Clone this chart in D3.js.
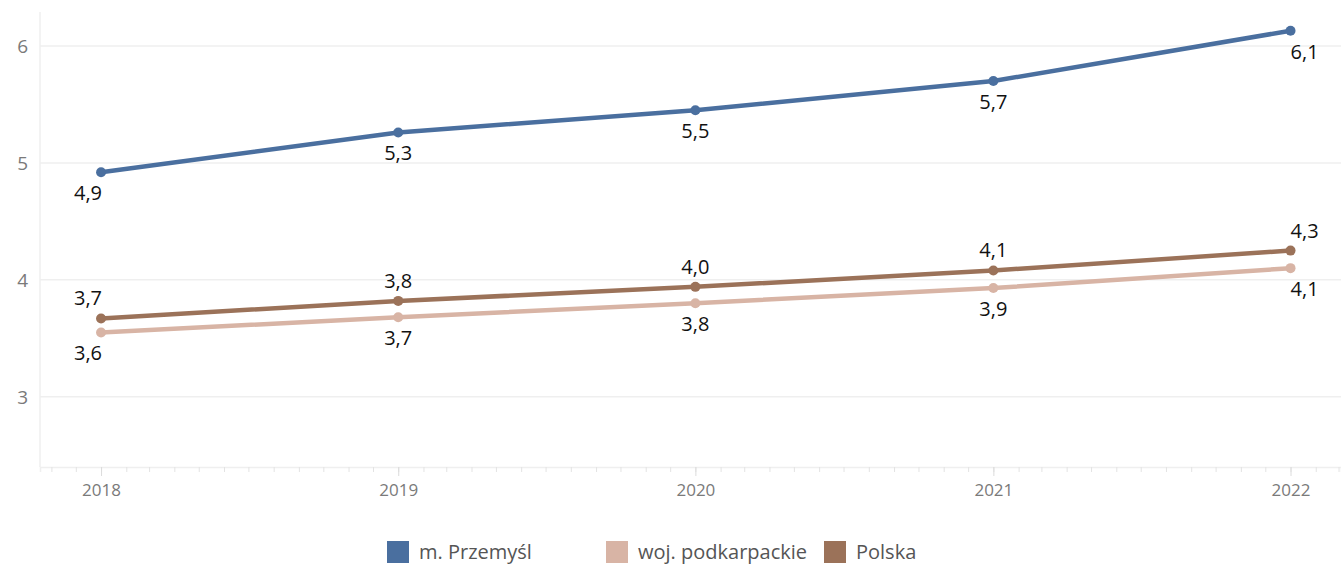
<!DOCTYPE html>
<html>
<head>
<meta charset="utf-8">
<script src="https://cdn.jsdelivr.net/npm/d3@7"></script>
<style>
  html, body { margin: 0; padding: 0; background: #fff; }
  svg { display: block; font-family: "Open Sans", "Noto Sans", sans-serif; }
</style>
</head>
<body>
<svg id="chart" width="1341" height="565"></svg>
<script>
const years = [2018, 2019, 2020, 2021, 2022];
const przemysl = [4.92, 5.26, 5.45, 5.70, 6.13];
const przemyslLabels = ["4,9", "5,3", "5,5", "5,7", "6,1"];
const podkarpackie = [3.55, 3.68, 3.80, 3.93, 4.10];
const podkarpackieLabels = ["3,6", "3,7", "3,8", "3,9", "4,1"];
const polska = [3.67, 3.82, 3.94, 4.08, 4.25];
const polskaLabels = ["3,7", "3,8", "4,0", "4,1", "4,3"];
const yTicks = [3, 4, 5, 6];
const seriesNames = ["m. Przemyśl", "woj. podkarpackie", "Polska"];
const colors = ["#4a6f9f", "#d8b4a5", "#9b7259"];

const svg = d3.select("#chart");
const plotLeft = 40, plotRight = 1341, plotTop = 12, plotBottom = 467;

const x = d3.scaleTime()
  .domain([new Date(2017, 9, 18), new Date(2022, 2, 4)])
  .range([plotLeft, plotRight]);
const y = d3.scaleLinear().domain([2.40, 6.29]).range([plotBottom, plotTop]);

// gridlines
svg.append("g").selectAll("line").data(yTicks).join("line")
  .attr("x1", plotLeft).attr("x2", plotRight)
  .attr("y1", d => y(d)).attr("y2", d => y(d))
  .attr("stroke", "#efefef").attr("stroke-width", 1.5);

// axis lines
svg.append("line").attr("x1", plotLeft).attr("x2", plotLeft).attr("y1", plotTop).attr("y2", plotBottom)
  .attr("stroke", "#efefef").attr("stroke-width", 1.5);

// y tick labels
svg.append("g").selectAll("text").data(yTicks).join("text")
  .attr("x", 28).attr("y", d => y(d)).attr("dy", "0.36em")
  .attr("text-anchor", "end").attr("fill", "#7a7a7a").attr("font-size", 19)
  .text(d => d);

// x axis
const xAxisMinor = d3.axisBottom(x).ticks(d3.timeMonth.every(1)).tickSize(5).tickFormat("");
const gMinor = svg.append("g").attr("transform", `translate(0,${plotBottom})`).call(xAxisMinor);
gMinor.select(".domain").attr("stroke", "#efefef").attr("stroke-width", 1.5);
gMinor.selectAll(".tick line").attr("stroke", "#e3e3e3");

const xAxisMajor = d3.axisBottom(x).tickValues(years.map(yr => new Date(yr, 0, 1)))
  .tickSize(9).tickPadding(8).tickFormat(d3.timeFormat("%Y"));
const gMajor = svg.append("g").attr("transform", `translate(0,${plotBottom})`).call(xAxisMajor);
gMajor.select(".domain").remove();
gMajor.selectAll(".tick line").attr("stroke", "#dcdcdc");
gMajor.selectAll(".tick text").attr("fill", "#7a7a7a").attr("font-size", 17)
  .attr("font-family", "'Open Sans', sans-serif");

const series = [
  { vals: przemysl, labels: przemyslLabels, color: colors[0], pos: "below" },
  { vals: podkarpackie, labels: podkarpackieLabels, color: colors[1], pos: "below" },
  { vals: polska, labels: polskaLabels, color: colors[2], pos: "above" }
];

const line = d3.line().x(d => x(new Date(d.year, 0, 1))).y(d => y(d.v));

series.forEach(s => {
  const pts = years.map((yr, i) => ({ year: yr, v: s.vals[i], label: s.labels[i], i }));
  svg.append("path").datum(pts).attr("d", line)
    .attr("fill", "none").attr("stroke", s.color).attr("stroke-width", 4.5)
    .attr("stroke-linejoin", "round").attr("stroke-linecap", "round");
  svg.append("g").selectAll("circle").data(pts).join("circle")
    .attr("cx", d => x(new Date(d.year, 0, 1))).attr("cy", d => y(d.v))
    .attr("r", 5).attr("fill", s.color);
  svg.append("g").selectAll("text").data(pts).join("text")
    .attr("x", d => {
      const px = x(new Date(d.year, 0, 1));
      return d.i === 0 ? px + 1 : px;
    })
    .attr("y", d => s.pos === "below" ? y(d.v) + 28 : y(d.v) - 13)
    .attr("text-anchor", d => d.i === 0 ? "end" : (d.i === pts.length - 1 ? "start" : "middle"))
    .attr("fill", "#111").attr("font-size", 20)
    .text(d => d.label);
});

// legend
const legendX = [387, 606, 824];
const lg = svg.append("g");
seriesNames.forEach((name, i) => {
  lg.append("rect").attr("x", legendX[i]).attr("y", 541).attr("width", 22).attr("height", 22)
    .attr("fill", colors[i]);
  lg.append("text").attr("x", legendX[i] + 32).attr("y", 559)
    .attr("fill", "#555").attr("font-size", 20).text(name);
});
</script>
</body>
</html>
